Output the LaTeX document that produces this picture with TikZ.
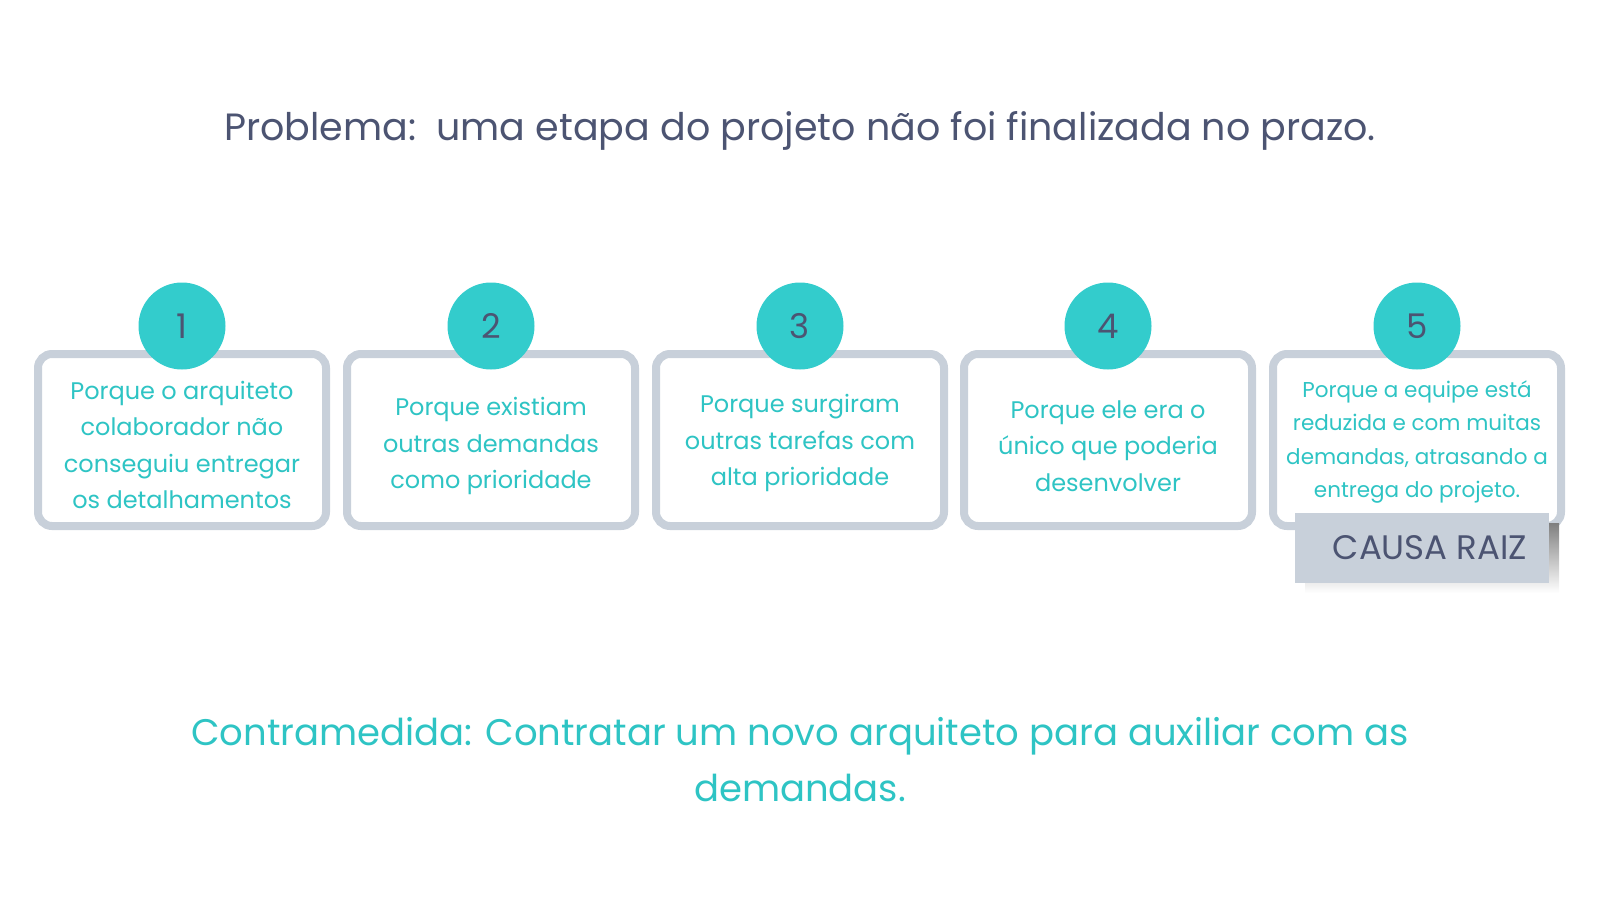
\documentclass[tikz,border=0pt]{standalone}
\usepackage{fontspec}
\setmainfont{Poppins}
\definecolor{teal}{HTML}{33CCCC}
\definecolor{tealtxt}{HTML}{2EC4C4}
\definecolor{dark}{HTML}{4C5472}
\definecolor{frame}{HTML}{C8D0DA}
\definecolor{shade}{HTML}{9AA3B0}
\begin{document}
\begin{tikzpicture}[x=1pt,y=-1pt,
  card/.style={draw=frame,line width=8pt,fill=white,rounded corners=14pt,minimum width=288pt,minimum height=172pt},
  num/.style={circle,fill=teal,minimum size=87pt,inner sep=0pt,text=dark,font=\fontsize{34}{34}\selectfont},
  txt/.style={text=tealtxt,align=center,font=\fontsize{24}{36.5}\selectfont}]
\useasboundingbox (0,0) rectangle (1600,900);
\node[text=dark,font=\fontsize{38}{38}\selectfont] (title) at (800,131) {Problema:\ \ uma etapa do projeto não foi finalizada no prazo.};
\foreach \i/\x in {1/182,2/491,3/800,4/1108,5/1417}{
  \node[card] (c\i) at (\x,440) {};
  \node[num] (n\i) at (\x,326) {\i};
}
\node[txt] (t1) at (182,445) {Porque o arquiteto\\colaborador não\\conseguiu entregar\\os detalhamentos};
\node[txt] (t2) at (491,446) {Porque existiam\\outras demandas\\como prioridade};
\node[txt] (t3) at (800,443) {Porque surgiram\\outras tarefas com\\alta prioridade};
\node[txt] (t4) at (1108,446) {Porque ele era o\\único que poderia\\desenvolver};
\node[txt,font=\fontsize{21.5}{33.5}\selectfont] (t5) at (1417,442) {Porque a equipe está\\reduzida e com muitas\\demandas, atrasando a\\entrega do projeto.};
\fill[shade] (1305,523) rectangle (1559,593);
\node[fill=frame,minimum width=254pt,minimum height=70pt,inner sep=0pt,text=dark,font=\fontsize{34}{34}\selectfont] (root) at (1422,548) {\hspace{16pt}CAUSA RAIZ};
\node[text=tealtxt,align=center,font=\fontsize{37}{56}\selectfont] (cm) at (800,760) {Contramedida: Contratar um novo arquiteto para auxiliar com as\\demandas.};
\end{tikzpicture}
\end{document}
